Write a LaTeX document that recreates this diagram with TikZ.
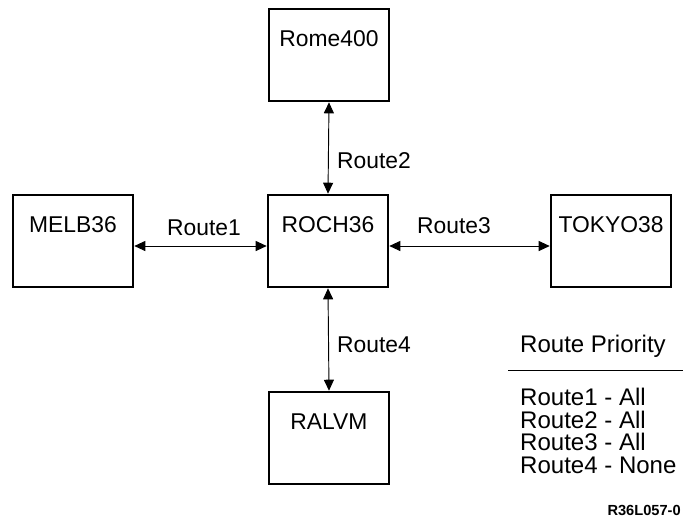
\documentclass[tikz,border=0pt]{standalone}
\usepackage{fontspec}
\setmainfont{Liberation Sans}
\usepackage{tikz}
\usetikzlibrary{arrows.meta,positioning}

\begin{document}
\begin{tikzpicture}[x=0.03cm, y=-0.03cm,
  box/.style={draw, line width=2.2pt, minimum width=3.6cm, minimum height=2.76cm,
              inner sep=0pt, text height=1.11cm, text depth=1.65cm,
              font=\fontsize{19.5}{22}\selectfont},
  lbl/.style={inner sep=0pt, anchor=base west, font=\fontsize{19.5}{22}\selectfont},
  leg/.style={inner sep=0pt, anchor=base west, font=\fontsize{20.5}{24}\selectfont},
  link/.style={{Triangle[length=0.33cm,width=0.3cm]}-{Triangle[length=0.33cm,width=0.3cm]}, line width=0.8pt}
]
\useasboundingbox (0,0) rectangle (683,518);
% systems
\node[box] (rome) at (329,55) {Rome400};
\node[box] (roch) at (328,241) {ROCH36};
\node[box] (melb) at (73,241) {MELB36};
\node[box] (tokyo) at (611,241) {TOKYO38};
\node[box] (ralvm) at (329,438) {RALVM};
% routes
\draw[link] ([yshift=-0.15cm]melb.east) -- ([yshift=-0.15cm]roch.west);
\draw[link] ([yshift=-0.15cm]roch.east) -- ([yshift=-0.15cm]tokyo.west);
\draw[link] (rome.south) -- (roch.north);
\draw[link] (roch.south) -- (ralvm.north);
\node[lbl] (r1) at (167,235) {Route1};
\node[lbl] (r3) at (417,233) {Route3};
\node[lbl] (r2) at (337,168) {Route2};
\node[lbl] (r4) at (337,352) {Route4};
% priority table
\node[leg] (prio) at (520,352) {Route Priority};
\draw[line width=0.8pt] (508,370) -- (683,370);
\node[leg] (p1) at (520,405) {Route1 - All};
\node[leg] (p2) at (520,428) {Route2 - All};
\node[leg] (p3) at (520,450) {Route3 - All};
\node[leg] (p4) at (520,473) {Route4 - None};
\node[inner sep=0pt, anchor=base east, font=\fontsize{12.5}{15}\selectfont\bfseries] (figid) at (681,515) {R36L057-0};
\end{tikzpicture}
\end{document}
